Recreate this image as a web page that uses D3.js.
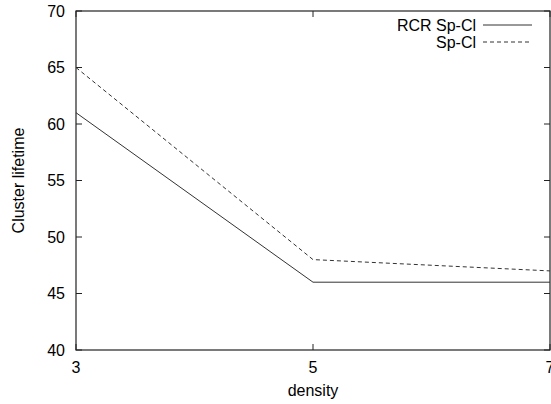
<!DOCTYPE html>
<html>
<head>
<meta charset="utf-8">
<script src="https://cdn.jsdelivr.net/npm/d3@7"></script>
<style>
  body { margin: 0; background: #fff; }
  svg { display: block; font-family: "Liberation Sans", Arial, sans-serif; }
</style>
</head>
<body>
<svg id="chart" width="551" height="404"></svg>
<script>
// data
const density = [3, 5, 7];
const rcrSpCl = [61, 46, 46];
const spCl = [65, 48, 47];
const xTicks = [3, 5, 7];
const yTicks = [40, 45, 50, 55, 60, 65, 70];
const seriesNames = ["RCR Sp-Cl", "Sp-Cl"];

const svg = d3.select("#chart");
const plotLeft = 76, plotRight = 550, plotTop = 11, plotBottom = 350;

const x = d3.scaleLinear().domain([3, 7]).range([plotLeft, plotRight]);
const y = d3.scaleLinear().domain([40, 70]).range([plotBottom, plotTop]);
const tick = 6;
const fs = 16;

// frame
svg.append("rect")
  .attr("x", plotLeft).attr("y", plotTop)
  .attr("width", plotRight - plotLeft).attr("height", plotBottom - plotTop)
  .attr("fill", "none").attr("stroke", "#222").attr("stroke-width", 1.2);

// ticks, mirrored on all four sides
const g = svg.append("g").attr("stroke", "#222").attr("stroke-width", 1);
yTicks.forEach(v => {
  g.append("line").attr("x1", plotLeft).attr("x2", plotLeft + tick).attr("y1", y(v)).attr("y2", y(v));
  g.append("line").attr("x1", plotRight).attr("x2", plotRight - tick).attr("y1", y(v)).attr("y2", y(v));
});
xTicks.forEach(v => {
  g.append("line").attr("x1", x(v)).attr("x2", x(v)).attr("y1", plotBottom).attr("y2", plotBottom - tick);
  g.append("line").attr("x1", x(v)).attr("x2", x(v)).attr("y1", plotTop).attr("y2", plotTop + tick);
});

// tick labels
svg.append("g").selectAll("text").data(yTicks).join("text")
  .attr("x", plotLeft - 11).attr("y", d => y(d))
  .attr("dy", "0.35em").attr("text-anchor", "end")
  .attr("font-size", fs).text(d => d);

svg.append("g").selectAll("text").data(xTicks).join("text")
  .attr("x", d => x(d)).attr("y", plotBottom + 23)
  .attr("text-anchor", "middle")
  .attr("font-size", fs).text(d => d);

// axis titles
svg.append("text")
  .attr("x", x(5)).attr("y", 396)
  .attr("text-anchor", "middle").attr("font-size", fs)
  .text("density");

svg.append("text")
  .attr("transform", `translate(24,${(plotTop + plotBottom) / 2}) rotate(-90)`)
  .attr("text-anchor", "middle").attr("font-size", fs)
  .text("Cluster lifetime");

// lines
const line = d3.line().x((d, i) => x(density[i])).y(d => y(d));
const series = [
  {name: seriesNames[0], values: rcrSpCl, dash: null},
  {name: seriesNames[1], values: spCl, dash: "4,3"}
];

series.forEach((s, i) => {
  svg.append("path")
    .attr("d", line(s.values))
    .attr("fill", "none").attr("stroke", "#333").attr("stroke-width", 1)
    .attr("stroke-dasharray", s.dash);

  const ly = 25 + i * 17;
  svg.append("text")
    .attr("x", 476).attr("y", ly).attr("dy", "0.35em")
    .attr("text-anchor", "end").attr("font-size", fs)
    .text(s.name);
  svg.append("line")
    .attr("x1", 483).attr("x2", 532).attr("y1", ly).attr("y2", ly)
    .attr("stroke", "#333").attr("stroke-width", 1)
    .attr("stroke-dasharray", s.dash);
});
</script>
</body>
</html>
